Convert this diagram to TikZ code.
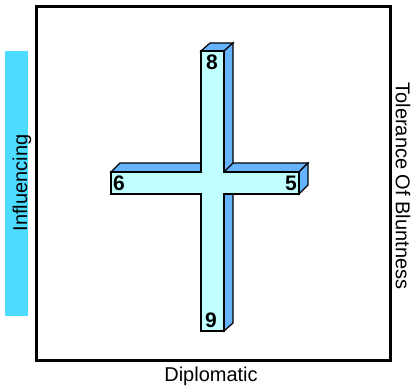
\documentclass[tikz,border=0pt]{standalone}
\usepackage{fontspec}
\setmainfont{Liberation Sans}
\usepackage{tikz}
\usetikzlibrary{positioning}
\definecolor{CrossFront}{HTML}{C0FFFF}
\definecolor{CrossSide}{HTML}{66B3FF}
\definecolor{AxisBar}{HTML}{4DDBFF}
\tikzset{
  frontface/.style={draw=black,line width=1.2pt,fill=CrossFront,line join=miter},
  sideface/.style={draw=black,line width=1.2pt,fill=CrossSide,line join=miter},
  digit/.style={font=\fontsize{21}{21}\selectfont\bfseries,inner sep=0pt},
  axislabel/.style={font=\fontsize{20}{20}\selectfont,inner sep=0pt}
}

\begin{document}
\begin{tikzpicture}[x=1pt,y=-1pt]
  \useasboundingbox (0,0) rectangle (416,389);

  % side bar and frame
  \fill[AxisBar] (5,51) rectangle (28,316);
  \draw[line width=3pt] (36,6) rectangle (390,360);

  % horizontal arm, top and end faces
  \draw[sideface] (111,172) -- (120,163) -- (308,163) -- (299,172) -- cycle;
  \draw[sideface] (299,172) -- (308,163) -- (308,185) -- (299,194) -- cycle;

  % vertical arm, top and side faces
  \draw[sideface] (201,51) -- (210,43) -- (233,43) -- (224,51) -- cycle;
  \draw[sideface] (224,51) -- (233,43) -- (233,163) -- (224,172) -- cycle;
  \draw[sideface] (224,194) -- (233,194) -- (233,323) -- (224,331) -- cycle;

  % front of the cross
  \draw[frontface] (201,51) -- (224,51) -- (224,172) -- (299,172) -- (299,194)
    -- (224,194) -- (224,331) -- (201,331) -- (201,194) -- (111,194)
    -- (111,172) -- (201,172) -- cycle;

  \node[digit] (top) at (212,62) {8};
  \node[digit] (left) at (119,183) {6};
  \node[digit] (right) at (291,183) {5};
  \node[digit] (bottom) at (211,320) {9};

  \node[axislabel,rotate=90] (influencing) at (22,183) {Influencing};
  \node[axislabel,rotate=-90] (tolerance) at (403,186) {Tolerance Of Bluntness};
  \node[axislabel] (diplomatic) at (211,376) {Diplomatic};
\end{tikzpicture}
\end{document}
